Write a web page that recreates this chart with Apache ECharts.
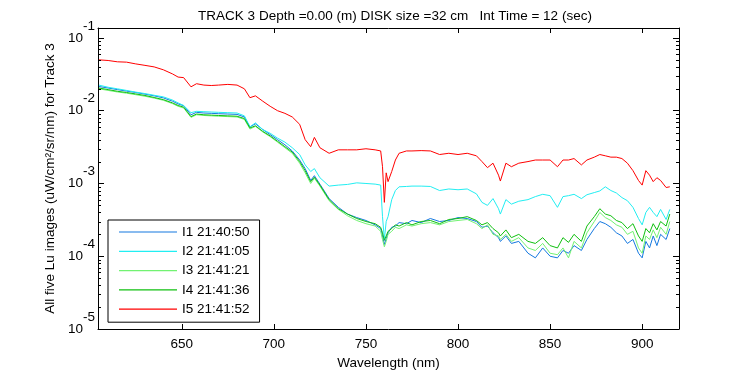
<!DOCTYPE html>
<html>
<head>
<meta charset="utf-8">
<script src="https://cdn.jsdelivr.net/npm/echarts@6/dist/echarts.min.js"></script>
<style>
    html, body { margin: 0; padding: 0; background: #fff; }
    #chart { width: 750px; height: 375px; }
</style>
</head>
<body>
<div id="chart"></div>
<script>
// wavelength (nm)
const wl = [
    605, 610, 615, 620, 625, 630, 635, 640, 645,
    648, 651, 655, 658, 662, 666, 670, 675, 680,
    684, 687, 690, 694, 698, 702, 706, 710, 714,
    717, 720, 722, 725, 730, 735, 740, 745, 750,
    755, 758, 759, 760, 761, 762, 764, 766, 768,
    772, 775, 780, 785, 790, 795, 800, 805, 810,
    813, 816, 819, 822, 823, 826, 829, 833, 838,
    842, 846, 850, 854, 857, 860, 863, 867, 870,
    874, 877, 880, 883, 886, 889, 892, 895, 898,
    900, 902, 904, 906, 908, 910, 913, 915
];

// I1 21:40:50
const i1 = [
    0.0215, 0.0205, 0.0195, 0.0186, 0.0178, 0.0169, 0.0160, 0.0150, 0.0135,
    0.0124, 0.0117, 0.0088, 0.0095, 0.0093, 0.0092, 0.0091, 0.0090, 0.0089,
    0.0082, 0.0060, 0.0066, 0.0055, 0.0047, 0.0040, 0.0034, 0.0028, 0.0021,
    0.0016, 0.00110, 0.00128, 0.00098, 0.00062, 0.00047, 0.00038, 0.00034, 0.00031,
    0.00027, 0.00024, 0.00019, 0.000145, 0.000175, 0.00021, 0.00025, 0.00026, 0.00029,
    0.00028, 0.00031, 0.00029, 0.00033, 0.00030, 0.00031, 0.00034, 0.00033, 0.00030,
    0.00025, 0.00026, 0.00021, 0.00018, 0.00016, 0.00019, 0.00015, 0.00016, 0.00011,
    0.000095, 0.00013, 0.00010, 0.000095, 0.00012, 0.00011, 0.00014, 0.00012, 0.00017,
    0.00024, 0.00030, 0.00028, 0.00025, 0.00021, 0.00019, 0.00015, 0.00017, 0.00011,
    0.000095, 0.00016, 0.00013, 0.00019, 0.00014, 0.00020, 0.00017, 0.00024
];

// I2 21:41:05
const i2 = [
    0.0225, 0.0210, 0.0200, 0.0190, 0.0180, 0.0172, 0.0163, 0.0155, 0.0140,
    0.0128, 0.0118, 0.0094, 0.0098, 0.0097, 0.0096, 0.0095, 0.0094, 0.0093,
    0.0085, 0.0060, 0.0068, 0.0055, 0.0049, 0.0042, 0.0037, 0.0031, 0.0025,
    0.0018, 0.00146, 0.0016, 0.0012, 0.00092, 0.00095, 0.00097, 0.00102, 0.00100,
    0.00098, 0.00095, 0.00035, 0.00017, 0.00030, 0.00035, 0.00060, 0.00080, 0.00090,
    0.00091, 0.00092, 0.00092, 0.00091, 0.00080, 0.00084, 0.00082, 0.00084, 0.00072,
    0.00055, 0.00050, 0.00062, 0.00045, 0.00038, 0.00060, 0.00052, 0.00057, 0.00060,
    0.00066, 0.00071, 0.00068, 0.00047, 0.00066, 0.00068, 0.00071, 0.00062, 0.00070,
    0.00075, 0.00079, 0.00090, 0.00080, 0.00074, 0.00064, 0.00058, 0.00047, 0.00033,
    0.00027, 0.00040, 0.00047, 0.00040, 0.00035, 0.00044, 0.00032, 0.00044
];

// I3 21:41:21
const i3 = [
    0.0200, 0.0190, 0.0181, 0.0174, 0.0166, 0.0158, 0.0149, 0.0139, 0.0125,
    0.0115, 0.0109, 0.0081, 0.0088, 0.0086, 0.0085, 0.0084, 0.0083, 0.0082,
    0.0076, 0.0056, 0.0061, 0.0051, 0.0044, 0.0037, 0.0031, 0.0026, 0.0019,
    0.0014, 0.00100, 0.00118, 0.00092, 0.00058, 0.00044, 0.00036, 0.00031, 0.00028,
    0.00026, 0.00022, 0.00017, 0.000135, 0.00016, 0.00020, 0.00022, 0.00025, 0.00024,
    0.00027, 0.00026, 0.00028, 0.00029, 0.00027, 0.00030, 0.00031, 0.00032, 0.00028,
    0.00024, 0.00027, 0.00020, 0.00019, 0.00017, 0.00020, 0.00016, 0.00018, 0.00013,
    0.00012, 0.00015, 0.00011, 0.000105, 0.00013, 0.000095, 0.00016, 0.00013, 0.00021,
    0.00030, 0.00040, 0.00034, 0.00031, 0.00027, 0.00025, 0.00020, 0.00022, 0.00013,
    0.00011, 0.00019, 0.00017, 0.00023, 0.00018, 0.00025, 0.00020, 0.00030
];

// I4 21:41:36
const i4 = [
    0.0205, 0.0195, 0.0185, 0.0178, 0.0170, 0.0162, 0.0152, 0.0142, 0.0128,
    0.0118, 0.0112, 0.0083, 0.0090, 0.0088, 0.0087, 0.0086, 0.0085, 0.0084,
    0.0078, 0.0058, 0.0062, 0.0052, 0.0045, 0.0038, 0.0032, 0.0027, 0.0020,
    0.0015, 0.00106, 0.00122, 0.00095, 0.00060, 0.00045, 0.00038, 0.00033, 0.00030,
    0.00028, 0.00025, 0.00021, 0.000165, 0.00019, 0.00022, 0.00024, 0.00027, 0.00026,
    0.00029, 0.00027, 0.00030, 0.00031, 0.00028, 0.00032, 0.00033, 0.00035, 0.00031,
    0.00027, 0.00029, 0.00024, 0.00021, 0.00019, 0.00023, 0.00018, 0.00020, 0.00016,
    0.00015, 0.00018, 0.00014, 0.00013, 0.00018, 0.000155, 0.00020, 0.00016, 0.00026,
    0.00035, 0.00045, 0.00038, 0.00036, 0.00031, 0.00029, 0.00024, 0.00028, 0.00019,
    0.00016, 0.00024, 0.00021, 0.00028, 0.00023, 0.00030, 0.00026, 0.00038
];

// I5 21:41:52
const i5 = [
    0.050, 0.049, 0.047, 0.0465, 0.044, 0.042, 0.040, 0.0365, 0.032,
    0.029, 0.0285, 0.0213, 0.0235, 0.0225, 0.0222, 0.0225, 0.0230, 0.0225,
    0.0200, 0.0151, 0.0160, 0.0135, 0.0115, 0.0100, 0.0092, 0.0082, 0.0065,
    0.0040, 0.0032, 0.0043, 0.0031, 0.0026, 0.0029, 0.0029, 0.0029, 0.0030,
    0.0029, 0.0028, 0.0017, 0.00055, 0.0014, 0.00106, 0.00146, 0.0021, 0.0026,
    0.0028, 0.0028, 0.00283, 0.0028, 0.0025, 0.0026, 0.0025, 0.0026, 0.0024,
    0.0020, 0.00165, 0.0019, 0.0013, 0.00108, 0.0019, 0.0017, 0.0019, 0.0020,
    0.0021, 0.0021, 0.0021, 0.0017, 0.0021, 0.0021, 0.0022, 0.0018, 0.0021,
    0.0023, 0.0025, 0.0024, 0.0023, 0.0023, 0.0022, 0.0019, 0.0015, 0.0011,
    0.00095, 0.0015, 0.0013, 0.00106, 0.0012, 0.0011, 0.00088, 0.0009
];

const seriesNames = ['I1 21:40:50', 'I2 21:41:05', 'I3 21:41:21', 'I4 21:41:36', 'I5 21:41:52'];
const seriesValues = [i1, i2, i3, i4, i5];
const seriesColors = ['#1478e0', '#22eef2', '#72f272', '#10c010', '#ff0000'];

const xMin = 604.5, xMax = 920;
const yMin = 1e-5, yMax = 0.137;

// minor ticks of the log axis: 2..9 x 10^k
const yMinor = [];
for (let e = -5; e <= -2; e++) {
    for (let m = 2; m <= 9; m++) yMinor.push(m * Math.pow(10, e));
}

const font = 'Liberation Sans';
const fs = 13.5;

function isDecade(v) {
    const l = Math.log10(v);
    return Math.abs(l - Math.round(l)) < 1e-6;
}

const lineSeries = seriesNames.map((name, k) => ({
    name: name,
    type: 'line',
    symbol: 'none',
    animation: false,
    color: seriesColors[k],
    lineStyle: { width: 1, color: seriesColors[k] },
    data: wl.map((w, i) => [w, seriesValues[k][i]])
}));

// short inward minor ticks on left and right frame
const minorTickSeries = {
    type: 'custom',
    silent: true,
    animation: false,
    clip: false,
    z: 5,
    data: yMinor.map(v => [xMin, v]),
    renderItem: function (params, api) {
        const p = api.coord([api.value(0), api.value(1)]);
        const cs = params.coordSys;
        const y = Math.round(p[1]) + 0.5;
        return {
            type: 'group',
            children: [
                { type: 'line', shape: { x1: cs.x, y1: y, x2: cs.x + 3, y2: y }, style: { stroke: '#000', lineWidth: 1 } },
                { type: 'line', shape: { x1: cs.x + cs.width - 3, y1: y, x2: cs.x + cs.width, y2: y }, style: { stroke: '#000', lineWidth: 1 } }
            ]
        };
    }
};

const chart = echarts.init(document.getElementById('chart'));
chart.setOption({
    backgroundColor: '#fff',
    animation: false,
    textStyle: { fontFamily: font, fontSize: fs, color: '#000' },
    title: {
        text: 'TRACK 3 Depth =0.00 (m) DISK size =32 cm   Int Time = 12 (sec)',
        left: 390,
        top: 4,
        textAlign: 'center',
        textStyle: { fontFamily: font, fontSize: fs, fontWeight: 'normal', color: '#000' }
    },
    grid: { left: 98, top: 28, right: 71, bottom: 44 },
    legend: {
        data: seriesNames,
        orient: 'vertical',
        left: 108,
        top: 220,
        icon: 'rect',
        itemWidth: 58,
        itemHeight: 1.2,
        itemGap: 5.3,
        padding: [5, 10, 6, 11],
        borderColor: '#000',
        borderWidth: 1,
        borderRadius: 0,
        backgroundColor: '#fff',
        selectedMode: false,
        textStyle: { fontFamily: font, fontSize: fs, lineHeight: 14, color: '#000' }
    },
    xAxis: [
        {
            type: 'value',
            min: xMin,
            max: xMax,
            position: 'bottom',
            name: 'Wavelength (nm)',
            nameLocation: 'middle',
            nameGap: 27,
            nameTextStyle: { fontFamily: font, fontSize: fs, color: '#000' },
            axisLine: { show: true, lineStyle: { color: '#000', width: 1 } },
            axisTick: { show: true, inside: true, length: 5, lineStyle: { color: '#000' } },
            axisLabel: {
                margin: 8,
                color: '#000',
                fontFamily: font,
                fontSize: fs,
                showMinLabel: false,
                showMaxLabel: false,
                formatter: v => (v % 50 === 0 ? String(v) : '')
            },
            splitLine: { show: false }
        },
        {
            type: 'value',
            min: xMin,
            max: xMax,
            position: 'top',
            axisLine: { show: true, lineStyle: { color: '#000', width: 1 } },
            axisTick: { show: true, inside: true, length: 5, lineStyle: { color: '#000' } },
            axisLabel: { show: false },
            splitLine: { show: false }
        }
    ],
    yAxis: [
        {
            type: 'log',
            logBase: 10,
            min: yMin,
            max: yMax,
            position: 'left',
            name: 'All five Lu images (uW/cm²/sr/nm) for Track 3',
            nameLocation: 'middle',
            nameRotate: 90,
            nameGap: 41,
            nameTextStyle: { fontFamily: font, fontSize: fs, color: '#000' },
            axisLine: { show: true, lineStyle: { color: '#000', width: 1 } },
            axisTick: { show: true, inside: true, length: 6, lineStyle: { color: '#000' } },
            axisLabel: {
                margin: 3,
                showMaxLabel: false,
                formatter: function (v) {
                    if (!isDecade(v)) return '';
                    return '{b|10}{s|' + Math.round(Math.log10(v)) + '}';
                },
                rich: {
                    b: { fontFamily: font, fontSize: fs, lineHeight: 38, color: '#000' },
                    s: { fontFamily: font, fontSize: fs, lineHeight: 13, verticalAlign: 'top', color: '#000' }
                }
            },
            splitLine: { show: false }
        },
        {
            type: 'log',
            logBase: 10,
            min: yMin,
            max: yMax,
            position: 'right',
            axisLine: { show: true, lineStyle: { color: '#000', width: 1 } },
            axisTick: { show: true, inside: true, length: 6, lineStyle: { color: '#000' } },
            axisLabel: { show: false },
            splitLine: { show: false }
        }
    ],
    series: lineSeries.concat([minorTickSeries])
});
</script>
</body>
</html>
